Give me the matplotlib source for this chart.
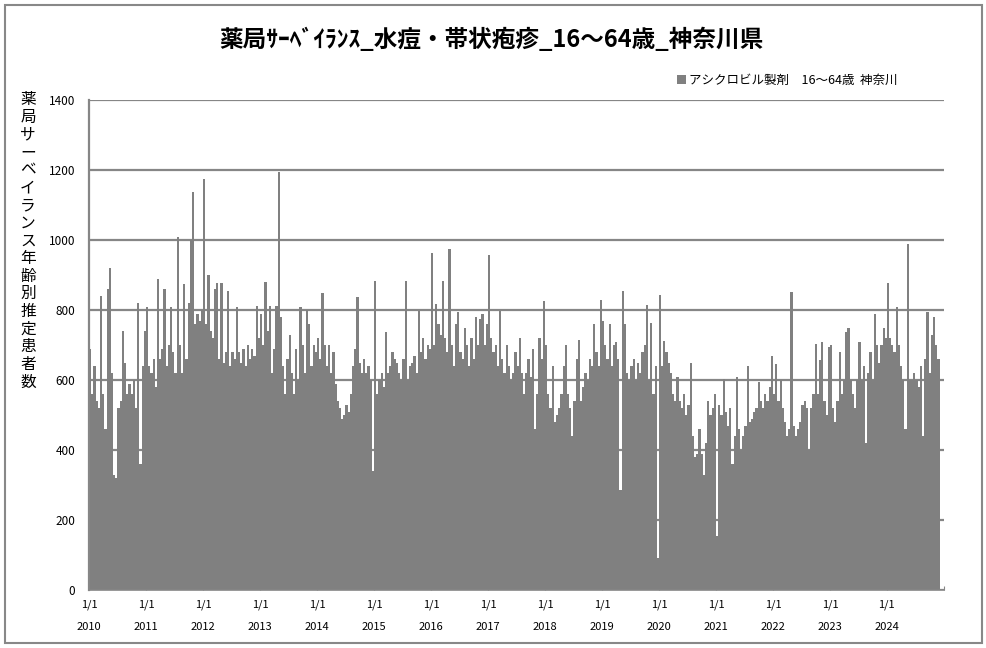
import datetime as dt
import numpy as np
import matplotlib
matplotlib.use("Agg")
import matplotlib.pyplot as plt
import matplotlib.dates as mdates
import matplotlib.transforms as mtransforms
from matplotlib.patches import Rectangle

plt.rcParams['font.family'] = ['Noto Sans CJK JP', 'DejaVu Sans']

# ---------------- data ----------------
title = "薬局ｻｰﾍﾞｲﾗﾝｽ_水痘・帯状疱疹_16～64歳_神奈川県"
ylabel = "薬局サーベイランス年齢別推定患者数"
legend_label = "アシクロビル製剤　16～64歳  神奈川"
years = list(range(2010, 2025))
xtick_label = "1/1"
yticks = [0, 200, 400, 600, 800, 1000, 1200, 1400]

# estimated values, one per ~two-week period of each year
v2010 = [690, 560, 640, 540, 520, 840, 560, 460, 860, 920, 620, 330, 320, 520, 540, 740, 650, 560, 590, 560, 600, 520, 820, 360, 640, 740]
v2011 = [810, 640, 620, 660, 580, 890, 660, 690, 860, 640, 700, 810, 680, 620, 1008, 700, 620, 873, 660, 819, 1000, 1137, 760, 790, 770, 800]
v2012 = [1174, 760, 900, 740, 720, 860, 876, 660, 876, 650, 680, 854, 640, 680, 660, 810, 680, 650, 690, 640, 700, 660, 690, 670, 811, 720]
v2013 = [790, 700, 880, 740, 811, 620, 690, 811, 1195, 780, 640, 560, 660, 730, 620, 560, 690, 600, 810, 700, 620, 800, 760, 640, 700, 680]
v2014 = [720, 660, 850, 700, 640, 700, 620, 680, 590, 540, 520, 490, 500, 530, 510, 560, 640, 690, 838, 650, 620, 660, 620, 640, 600, 340]
v2015 = [883, 560, 600, 620, 580, 738, 620, 640, 680, 660, 650, 620, 600, 660, 883, 600, 640, 650, 670, 620, 798, 680, 720, 660, 700, 690]
v2016 = [962, 700, 817, 760, 730, 883, 720, 680, 974, 700, 640, 760, 793, 680, 660, 748, 700, 640, 720, 660, 779, 700, 774, 789, 700, 760]
v2017 = [957, 720, 680, 700, 640, 798, 660, 620, 700, 640, 600, 620, 680, 640, 720, 620, 560, 620, 660, 610, 690, 460, 560, 720, 660, 826]
v2018 = [700, 560, 520, 640, 480, 500, 520, 560, 640, 700, 560, 520, 440, 540, 660, 715, 540, 580, 620, 600, 660, 640, 760, 680, 640, 829]
v2019 = [770, 700, 660, 760, 640, 700, 710, 660, 286, 855, 760, 620, 600, 640, 660, 600, 650, 620, 680, 700, 814, 600, 762, 560, 640, 91]
v2020 = [843, 640, 712, 681, 650, 620, 560, 540, 610, 540, 520, 560, 500, 530, 650, 440, 380, 390, 460, 390, 330, 420, 540, 500, 520, 560]
v2021 = [153, 530, 500, 602, 510, 470, 520, 360, 440, 610, 460, 400, 440, 470, 640, 480, 490, 510, 520, 595, 540, 520, 560, 540, 580, 668]
v2022 = [560, 646, 540, 600, 520, 480, 440, 460, 851, 470, 440, 460, 480, 530, 540, 520, 400, 520, 560, 703, 560, 657, 709, 540, 500, 695]
v2023 = [700, 520, 480, 540, 679, 560, 600, 738, 749, 600, 560, 520, 600, 708, 600, 640, 420, 620, 680, 600, 790, 700, 650, 700, 748, 720]
v2024 = [876, 720, 700, 680, 810, 700, 640, 600, 460, 989, 600, 600, 620, 600, 580, 640, 440, 660, 795, 620, 730, 781, 700, 660]

series = [v2010, v2011, v2012, v2013, v2014, v2015, v2016, v2017,
          v2018, v2019, v2020, v2021, v2022, v2023, v2024]

# ---------------- figure ----------------
W, H = 987, 648
fig = plt.figure(figsize=(W / 100, H / 100), dpi=100)
fig.patch.set_facecolor('white')

L, R, T, B = 89, 944, 100, 590
ax = fig.add_axes([L / W, 1 - B / H, (R - L) / W, (B - T) / H])

GRAY = '#808080'
GRID = '#868686'

pos, hts, wid = [], [], []
for yr, vals in zip(years, series):
    s = mdates.date2num(dt.date(yr, 1, 1))
    e = mdates.date2num(dt.date(yr + 1, 1, 1))
    w = (e - s) / 26.0
    for i, v in enumerate(vals):
        pos.append(s + i * w)
        hts.append(v)
        wid.append(w)

ax.bar(pos, hts, width=wid, align='edge', color=GRAY, linewidth=0,
       antialiased=False, label=legend_label, zorder=2)

ax.set_xlim(mdates.date2num(dt.date(years[0], 1, 1)),
            mdates.date2num(dt.date(years[-1] + 1, 1, 1)))
ax.set_ylim(0, 1400)

# grid
ax.set_yticks(yticks)
ax.yaxis.grid(True, color=GRID, linewidth=1.6, zorder=0)
ax.set_axisbelow(True)
ax.tick_params(axis='y', length=0, pad=10, labelsize=8.5, labelcolor='black')

# x ticks
xt = [mdates.date2num(dt.date(y, 1, 1)) for y in years] + \
     [mdates.date2num(dt.date(years[-1] + 1, 1, 1))]
ax.set_xticks(xt)
ax.set_xticklabels([xtick_label] * len(years) + [""])
ax.tick_params(axis='x', direction='in', length=3, color=GRID, pad=7,
               labelsize=8, labelcolor='black')
trans = mtransforms.blended_transform_factory(ax.transData, ax.transAxes)
for y in years:
    ax.text(mdates.date2num(dt.date(y, 1, 1)), -0.0755, str(y), transform=trans,
            ha='center', va='center', fontsize=8)

for sp in ['top', 'right']:
    ax.spines[sp].set_visible(False)
ax.spines['left'].set_color(GRID)
ax.spines['left'].set_linewidth(1.6)
ax.spines['bottom'].set_color(GRID)
ax.spines['bottom'].set_linewidth(1.2)

# title
fig.text(491 / W, 1 - 40 / H, title, ha='center', va='center',
         fontsize=17, fontweight='bold')

# vertical y label (stacked characters)
fig.text(28 / W, 1 - 241 / H, "\n".join(ylabel), ha='center', va='center',
         fontsize=11.3, linespacing=1.05)

# legend
ax.legend(loc='center left', bbox_to_anchor=(677 / W, 1 - 80 / H),
          bbox_transform=fig.transFigure, frameon=False, fontsize=9,
          handlelength=0.7, handleheight=0.7, handletextpad=0.3,
          borderpad=0, borderaxespad=0)

# outer border
fig.add_artist(Rectangle((5 / W, 5 / H), (982 - 5) / W, (643 - 5) / H,
                         transform=fig.transFigure, fill=False,
                         edgecolor='#888888', linewidth=1.5))

fig.savefig("out.png", dpi=100)
